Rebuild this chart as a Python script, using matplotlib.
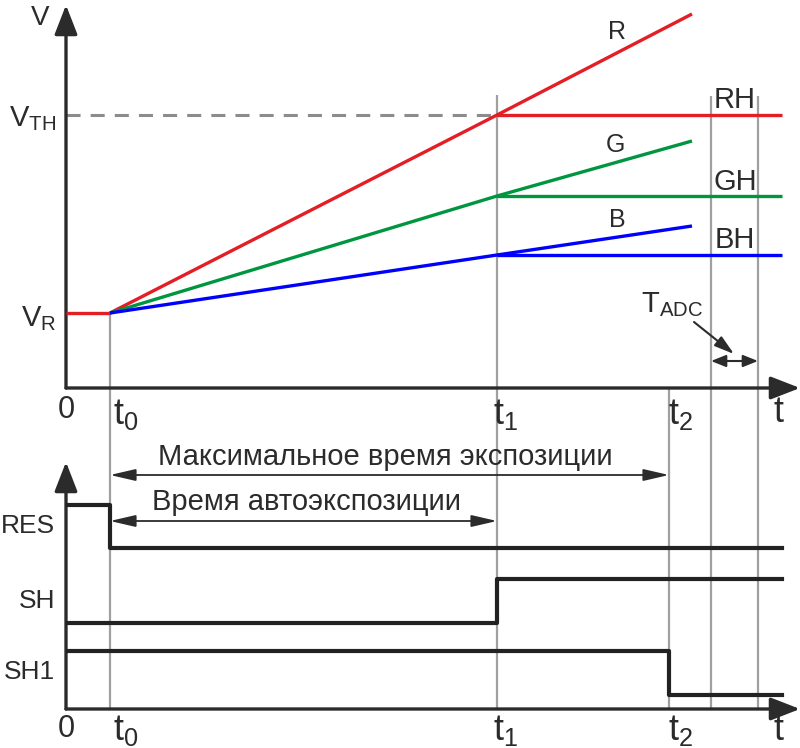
import matplotlib.pyplot as plt
from matplotlib.patches import ArrowStyle

plt.rcParams['font.family'] = ['Liberation Sans', 'DejaVu Sans']
plt.rcParams['mathtext.fontset'] = 'custom'
plt.rcParams['mathtext.rm'] = 'Liberation Sans'
plt.rcParams['mathtext.it'] = 'Liberation Sans'
plt.rcParams['text.color'] = '#2b2b2b'

# time marks (arbitrary units)
t0 = 4.4
t1 = 43.1
t2 = 60.3
t_ramp_end = 62.6
t_adc = [64.5, 69.2]
t_end = 71.6
t_axis = 73.4

# voltages (arbitrary units)
v_r = 7.5
v_th = 27.3
v_axis = 38.3
ramp_t = [t0, t1, t_ramp_end]
ramps = {
    'R': [v_r, 27.3, 37.4],
    'G': [v_r, 19.2, 24.7],
    'B': [v_r, 13.3, 16.2],
}
colors = {'R': '#e31e24', 'G': '#00963f', 'B': '#0000ff'}

# logic signals (levels in arbitrary units)
res_x = [0, t0, t_end]
res_y = [20.4, 16.1, 16.1]
sh_x = [0, t1, t_end]
sh_y = [8.6, 13.0, 13.0]
sh1_x = [0, t2, t_end]
sh1_y = [5.8, 1.4, 1.4]
sig_axis = 24.7

axis_col = '#2b2b2b'
grid_col = '#a0a0a0'
fs = 20

fig = plt.figure(figsize=(8, 7.48), dpi=100)
ax = fig.add_axes([66 / 800, 1 - 388 / 748, 734 / 800, 383 / 748])
axb = fig.add_axes([66 / 800, 1 - 709 / 748, 734 / 800, 247 / 748])
for a, top in ((ax, v_axis), (axb, sig_axis)):
    a.set_xlim(0, t_axis)
    a.set_ylim(0, top)
    a.axis('off')
    head = ArrowStyle('-|>', head_length=0.9, head_width=0.35)
    a.annotate('', xy=(0, top), xytext=(0, 0), annotation_clip=False,
               arrowprops=dict(arrowstyle=head, lw=2.4, color=axis_col,
                               shrinkA=0, shrinkB=0, mutation_scale=20))
    a.annotate('', xy=(t_axis, 0), xytext=(0, 0), annotation_clip=False,
               arrowprops=dict(arrowstyle=head, lw=2.4, color=axis_col,
                               shrinkA=0, shrinkB=0, mutation_scale=20))

# vertical guide lines through both panels
y_bot = ax.transData.inverted().transform(axb.transData.transform((0, 0)))[1]
ax.vlines(t0, y_bot, v_r, color=grid_col, lw=1.6, clip_on=False, zorder=1)
ax.vlines(t1, y_bot, 29.3, color=grid_col, lw=1.6, clip_on=False, zorder=1)
ax.vlines(t2, y_bot, 0, color=grid_col, lw=1.6, clip_on=False, zorder=1)
for ta in t_adc:
    ax.vlines(ta, y_bot, 29.2, color=grid_col, lw=1.6, clip_on=False, zorder=1)

# threshold
ax.plot([0, t1], [v_th, v_th], color='#8c8c8c', lw=2.2, dashes=(4.6, 3.3), zorder=2)

# ramps and held values
ax.plot([0, t0], [v_r, v_r], color=colors['R'], lw=2.4, solid_capstyle='butt', zorder=3)
for z, key in enumerate(['R', 'G', 'B']):
    vals = ramps[key]
    ax.plot(ramp_t, vals, color=colors[key], lw=2.4, zorder=3 + z, solid_capstyle='butt')
    ax.plot([t1, t_end], [vals[1], vals[1]], color=colors[key], lw=2.4, zorder=3 + z,
            solid_capstyle='butt')

ax.text(55.1, 35.6, 'R', fontsize=18, ha='center', va='center')
ax.text(54.9, 24.3, 'G', fontsize=18, ha='center', va='center')
ax.text(55.1, 16.8, 'B', fontsize=18, ha='center', va='center')
ax.text(66.9, 28.8, 'RH', fontsize=21, ha='center', va='center')
ax.text(66.9, 20.6, 'GH', fontsize=21, ha='center', va='center')
ax.text(66.9, 14.8, 'BH', fontsize=21, ha='center', va='center')

# T_ADC
ax.text(60.6, 8.3, r'$\mathrm{T_{ADC}}$', fontsize=21, ha='center', va='center')
ax.annotate('', xy=(66.8, 3.4), xytext=(62.8, 6.6),
            arrowprops=dict(arrowstyle=ArrowStyle('-|>', head_length=1.0, head_width=0.3),
                            lw=1.5, color=axis_col, shrinkA=0, shrinkB=0, mutation_scale=12))
ax.annotate('', xy=(t_adc[1], 2.7), xytext=(t_adc[0], 2.7),
            arrowprops=dict(arrowstyle=ArrowStyle('<|-|>', head_length=0.75, head_width=0.3),
                            lw=1.5, color=axis_col, shrinkA=0, shrinkB=0, mutation_scale=12))

# top labels
ax.text(-2.6, 37.0, 'V', fontsize=fs, ha='center', va='center')
ax.text(-1.0, 26.9, r'$\mathrm{V_{TH}}$', fontsize=21, ha='right', va='center')
ax.text(-1.0, 6.9, r'$\mathrm{V_R}$', fontsize=21, ha='right', va='center')
for a, yl, dt in ((ax, -2.2, -0.5), (axb, -2.0, -0.1)):
    a.text(0, yl, '0', fontsize=22, ha='center', va='center')
    a.text(t0 + 1.6, yl + dt, r'$\mathrm{t_0}$', fontsize=26, ha='center', va='center')
    a.text(t1 + 0.9, yl + dt, r'$\mathrm{t_1}$', fontsize=26, ha='center', va='center')
    a.text(t2 + 1.2, yl + dt, r'$\mathrm{t_2}$', fontsize=26, ha='center', va='center')
    a.text(71.3, yl - 0.2, 't', fontsize=26, ha='center', va='center')

# logic signals
for xs, ys in ((res_x, res_y), (sh_x, sh_y), (sh1_x, sh1_y)):
    axb.step(xs, ys, where='post', color='#222222', lw=3.0, zorder=3)

axb.text(-1.1, 18.3, 'RES', fontsize=19, ha='right', va='center')
axb.text(-1.1, 10.8, 'SH', fontsize=19, ha='right', va='center')
axb.text(-1.1, 3.7, 'SH1', fontsize=19, ha='right', va='center')

# duration arrows
dur = ArrowStyle('<|-|>', head_length=1.3, head_width=0.3)
axb.annotate('', xy=(t2, 23.4), xytext=(t0, 23.4),
             arrowprops=dict(arrowstyle=dur, lw=1.3, color=axis_col, shrinkA=0, shrinkB=0,
                             mutation_scale=12))
axb.text(31.9, 25.2, 'Максимальное время экспозиции', fontsize=21, ha='center', va='center')
axb.annotate('', xy=(t1, 18.8), xytext=(t0, 18.8),
             arrowprops=dict(arrowstyle=dur, lw=1.3, color=axis_col, shrinkA=0, shrinkB=0,
                             mutation_scale=12))
axb.text(24.1, 20.7, 'Время автоэкспозиции', fontsize=21, ha='center', va='center')

fig.savefig('out.png', dpi=100)
